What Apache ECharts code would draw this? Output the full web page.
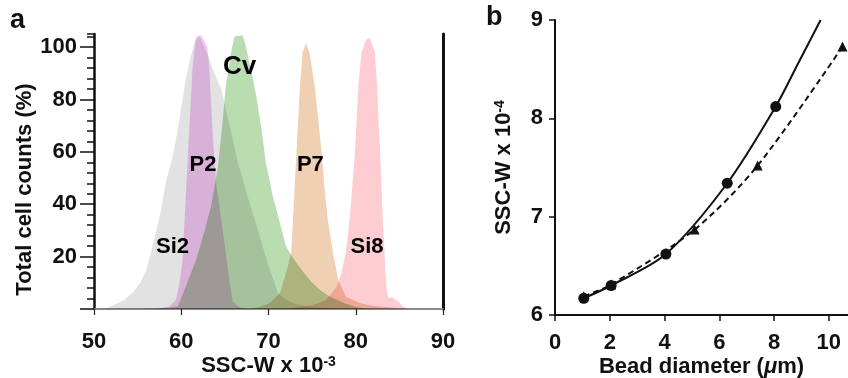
<!DOCTYPE html>
<html>
<head>
<meta charset="utf-8">
<script src="https://cdn.jsdelivr.net/npm/echarts@6/dist/echarts.min.js"></script>
<style>
  html, body { margin: 0; padding: 0; background: #fff; }
  #chart { width: 848px; height: 378px; }
</style>
</head>
<body>
<div id="chart"></div>
<script>
// ---- panel a: SSC-W histograms, [SSC-W x 1e-3, % of peak] ----
const si2 = [[50.5, 0], [51.5, 0.5], [52.5, 1.8], [53.5, 3.5], [54.5, 6.5], [55.3, 10], [56, 15], [56.5, 21], [57, 28], [57.7, 38], [58.2, 48], [59, 58], [59.6, 68.5], [60, 77], [60.5, 87.5], [61.1, 96.5], [61.6, 102.5], [62.1, 104], [62.8, 99], [63.8, 90], [64.6, 83.7], [65.3, 73.5], [66.5, 55.7], [67.6, 43], [68.8, 30], [69.9, 17.5], [71.1, 6], [72, 3.5], [73, 2], [74, 1.2], [75, 0.7], [76.5, 0.3], [78, 0]]
const p2 = [[57, 0], [58.6, 0.9], [59.4, 3.4], [59.8, 9.8], [60.15, 18.7], [60.3, 29], [60.5, 41.7], [60.7, 54.4], [60.9, 67], [61.1, 80], [61.3, 92.7], [61.7, 104], [62.3, 104.5], [63, 100], [63.2, 92.7], [63.4, 80], [63.6, 67], [63.8, 57], [64, 48], [64.5, 36], [65, 24], [65.5, 11], [65.9, 3], [66.5, 1], [67.5, 0]]
const cv = [[55, 0], [57, 0.3], [58.5, 0.5], [59.6, 1], [60.5, 8.5], [61.7, 18.7], [62.6, 29], [63.4, 39], [64.2, 54], [64.75, 72], [65.1, 85], [65.7, 97.8], [66.1, 104], [67, 104.5], [67.2, 103], [68, 91.4], [68.6, 81.2], [69.2, 68.5], [69.7, 55.7], [70.5, 43], [71.3, 32.8], [72, 24], [73, 18.5], [74, 14], [75, 10], [76, 7], [77, 4.8], [78, 3.2], [79, 1.8], [80, 0.8], [81, 0.3], [83, 0]]
const p7 = [[68, 0], [69, 0.9], [70.1, 2.2], [71.3, 6], [72, 13.6], [72.6, 21.3], [72.8, 34], [73, 46.8], [73.2, 59.5], [73.4, 72], [73.6, 85], [73.9, 97.8], [74.3, 101.6], [74.7, 97.8], [75.3, 85], [75.7, 72.3], [76.1, 59.5], [76.4, 46.8], [76.8, 34], [77.4, 21.3], [78, 11], [78.9, 4.7], [80.5, 2.2], [82, 1.1], [85, 0.3], [86, 0]]
const si8 = [[72, 0], [73, 0.5], [75.1, 1.5], [76.6, 3.4], [77.8, 8.5], [78.35, 13.6], [78.85, 21.3], [79.3, 34], [79.6, 46.8], [79.9, 59.5], [80.1, 72.3], [80.3, 85], [80.65, 97.8], [81.2, 103], [81.6, 103.5], [82.2, 97.8], [82.45, 85], [82.6, 72.3], [82.8, 59.5], [82.95, 46.8], [83.1, 34], [83.3, 21.3], [83.5, 8.5], [83.7, 4.5], [84.3, 4.2], [85, 2.5], [85.4, 0.9], [86, 0]]

const histNames = ['Si2', 'P2', 'Cv', 'P7', 'Si8']
const histData = [si2, p2, cv, p7, si8]
const histColors = ['#e2e2e2', '#f4c8f4', '#b9dcb0', '#efd0b3', '#fdcdd3']
// where each name sits, in data units
const labelAt = [[59, 23.7], [62.5, 55], [66.7, 92.5], [74.8, 55], [81.3, 23.7]]
const labelSize = [22, 22, 26, 22, 22]

const aTicks = [20, 40, 60, 80, 100]
const aMajor = [0, 20, 40, 60, 80, 100]

// ---- panel b: SSC-W x 1e-4 vs bead diameter ----
const circles = [[1.05, 6.17], [2.05, 6.3], [4.05, 6.62], [6.29, 7.34], [8.06, 8.12]]
const circleFitTail = [[8.9, 8.57], [9.7, 9.0]]
const triangles = [[1.05, 6.19], [2.05, 6.31], [5.1, 6.87], [7.4, 7.52], [10.5, 8.73]]
const bTicks = [0, 2, 4, 6, 8, 10]

const FONT = '"Liberation Sans", Arial, sans-serif'
const txt = { fontFamily: FONT, fontWeight: 'bold', fontSize: 22, color: '#111' }
const sup = { fontFamily: FONT, fontWeight: 'bold', fontSize: 14, color: '#111', verticalAlign: 'top' }

const chart = echarts.init(document.getElementById('chart'))

const histSeries = histData.map((d, i) => ({
  type: 'line',
  name: histNames[i],
  xAxisIndex: 0,
  yAxisIndex: 0,
  data: d,
  symbol: 'none',
  lineStyle: { width: 0 },
  areaStyle: { color: histColors[i], opacity: 1 },
  blendMode: 'multiply',
  silent: true,
  z: 1
}))

const option = {
  backgroundColor: '#fff',
  animation: false,
  grid: [
    { left: 94, top: 34, width: 349, height: 275, outerBoundsMode: 'none', containLabel: false },
    { left: 555, top: 20, right: 0, height: 295, outerBoundsMode: 'none', containLabel: false }
  ],
  xAxis: [
    {
      gridIndex: 0, type: 'value', min: 50, max: 90, interval: 10,
      axisLine: { lineStyle: { color: '#222', width: 1.5 } },
      axisTick: { length: 6, lineStyle: { color: '#222', width: 1.2 } },
      axisLabel: Object.assign({ margin: 22 }, txt),
      splitLine: { show: false },
      name: '{t|SSC-W x 10}{s|-3}',
      nameLocation: 'middle',
      nameMoveOverlap: false,
      nameGap: 46,
      nameTextStyle: { rich: { t: Object.assign({}, txt), s: sup } }
    },
    {
      gridIndex: 0, type: 'value', min: 50, max: 90, position: 'top',
      axisLine: { lineStyle: { color: '#9a9a9a', width: 1.5 } },
      axisTick: { show: false }, axisLabel: { show: false }, splitLine: { show: false }
    },
    {
      gridIndex: 1, type: 'value', min: 0, max: 10.7,
      axisLine: { lineStyle: { color: '#111', width: 2 } },
      axisTick: { customValues: bTicks, length: 6, lineStyle: { color: '#111', width: 1.5 } },
      axisLabel: Object.assign({ customValues: bTicks, margin: 17 }, txt),
      splitLine: { show: false },
      name: '{t|Bead diameter (}{i|\u03bc}{t|m)}',
      nameLocation: 'middle',
      nameMoveOverlap: false,
      nameGap: 41,
      nameTextStyle: {
        rich: { t: Object.assign({}, txt), i: Object.assign({ fontStyle: 'italic' }, txt) }
      }
    }
  ],
  yAxis: [
    {
      gridIndex: 0, type: 'value', min: 0, max: 105, position: 'left',
      axisLine: { lineStyle: { color: '#111', width: 2.5 } },
      axisTick: { customValues: aMajor, length: 14, lineStyle: { color: '#111', width: 1.5 } },
      axisLabel: Object.assign({ customValues: aTicks, margin: 17 }, txt),
      splitLine: { show: false },
      name: 'Total cell counts (%)',
      nameLocation: 'middle',
      nameGap: 56,
      nameTextStyle: Object.assign({ padding: [0, 36, 0, 0] }, txt)
    },
    {
      gridIndex: 0, type: 'value', min: 0, max: 105, interval: 4, position: 'left',
      axisLine: { show: false },
      axisTick: { length: 7, lineStyle: { color: '#111', width: 1.5 } },
      axisLabel: { show: false }, splitLine: { show: false }
    },
    {
      gridIndex: 0, type: 'value', min: 0, max: 105, position: 'right',
      axisLine: { lineStyle: { color: '#111', width: 3 } },
      axisTick: { show: false }, axisLabel: { show: false }, splitLine: { show: false }
    },
    {
      gridIndex: 1, type: 'value', min: 6, max: 9, interval: 1,
      axisLine: { lineStyle: { color: '#111', width: 2 } },
      axisTick: { length: 6, lineStyle: { color: '#111', width: 1.5 } },
      axisLabel: Object.assign({ margin: 12 }, txt),
      splitLine: { show: false },
      name: '{t|SSC-W x 10}{s|-4}',
      nameLocation: 'middle',
      nameGap: 40,
      nameTextStyle: { rich: { t: Object.assign({}, txt), s: sup } }
    }
  ],
  series: histSeries.concat([
    {
      type: 'line',
      xAxisIndex: 2, yAxisIndex: 3,
      data: circles.concat(circleFitTail),
      smooth: 0.3,
      showSymbol: false,
      lineStyle: { color: '#111', width: 2 },
      clip: false
    },
    {
      type: 'scatter',
      xAxisIndex: 2, yAxisIndex: 3,
      data: circles,
      symbol: 'circle', symbolSize: 11,
      itemStyle: { color: '#111', opacity: 1 },
      z: 4
    },
    {
      type: 'line',
      xAxisIndex: 2, yAxisIndex: 3,
      data: triangles,
      smooth: 0.3,
      symbol: 'triangle', symbolSize: 10, showSymbol: true,
      itemStyle: { color: '#111' },
      lineStyle: { color: '#111', width: 2, type: [6, 4] },
      clip: false
    }
  ])
}

chart.setOption(option)

// panel letters + histogram names, names placed through the chart's own scale
const namesGraphic = histNames.map((n, i) => {
  const p = chart.convertToPixel({ xAxisIndex: 0, yAxisIndex: 0 }, labelAt[i])
  return {
    type: 'text', x: p[0], y: p[1], z: 10,
    style: {
      text: n, fill: '#000', align: 'center', verticalAlign: 'middle',
      fontFamily: FONT, fontWeight: 'bold', fontSize: labelSize[i]
    }
  }
})
chart.setOption({
  graphic: [
    { type: 'text', left: 10, top: 7, style: { text: 'a', fontFamily: FONT, fontWeight: 'bold', fontSize: 27, fill: '#111' } },
    { type: 'text', left: 486, top: 4, style: { text: 'b', fontFamily: FONT, fontWeight: 'bold', fontSize: 27, fill: '#111' } }
  ].concat(namesGraphic)
})
</script>
</body>
</html>
